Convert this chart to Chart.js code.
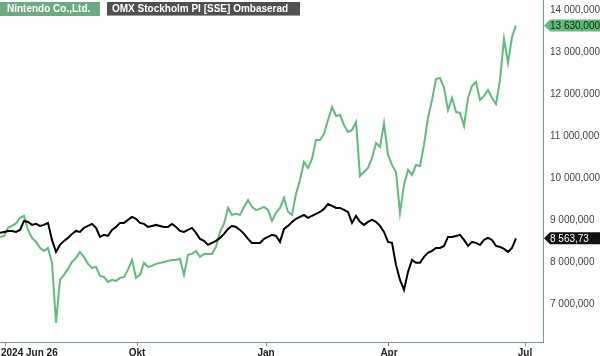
<!DOCTYPE html>
<html>
<head>
<meta charset="utf-8">
<script src="https://cdn.jsdelivr.net/npm/chart.js@4.4.1/dist/chart.umd.min.js"></script>
<style>
  html, body { margin: 0; padding: 0; background: #ffffff; }
  #wrap { position: relative; width: 600px; height: 356px; }
</style>
</head>
<body>
<div id="wrap"><canvas id="c" width="600" height="356"></canvas></div>
<script>
// ---- Data ----
const seriesNames = ['Nintendo Co.,Ltd.', 'OMX Stockholm PI [SSE] Ombaserad'];

// x tick positions (sample index) and their labels
const tickPos  = [1.25, 34.25, 66.5, 97.25, 131.25];
const tickText = ['2024 Jun 26', 'Okt', 'Jan', 'Apr', 'Jul'];

// y ticks
const yTicks = [7000, 8000, 9000, 10000, 11000, 12000, 13000, 14000];

// Nintendo Co.,Ltd. (sampled at regular intervals)
const nintendo = [
  8597, 8621, 8812, 8859, 8919, 9050, 9097, 8764, 8574, 8478,
  8336, 8264, 8336, 7979, 6551, 7574, 7693, 7836, 8002, 8098,
  8240, 8121, 7955, 7860, 7883, 7669, 7645, 7526, 7574, 7550,
  7622, 7645, 7812, 8050, 7622, 7693, 7979, 7883, 7907, 7955,
  7979, 8002, 8026, 8050, 8050, 8074, 7693, 8169, 8193, 8264,
  8121, 8193, 8193, 8193, 8359, 8716, 8907, 9288, 9121, 9145,
  9121, 9311, 9470, 9311, 9240, 9264, 9311, 9240, 8978, 9169,
  9288, 9526, 9192, 9121, 9621, 9954, 10382, 10240, 10454, 10906,
  10906, 11049, 11382, 11691, 11477, 11501, 11263, 11096, 11144, 11334,
  10049, 10144, 10240, 10478, 10835, 10739, 11300, 10549, 10311, 10144,
  9169, 9835, 10192, 10073, 10311, 10287, 10787, 11430, 11858, 12358,
  12382, 12144, 11620, 11906, 11572, 11549, 11239, 11906, 12191, 12286,
  11858, 11953, 12096, 11906, 11763, 12334, 13310, 12739, 13357, 13630
];

// OMX Stockholm PI [SSE] Ombaserad (same sampling)
const omx = [
  8693, 8716, 8740, 8740, 8716, 8764, 8978, 8954, 8883, 8907,
  8859, 8883, 8931, 8526, 8240, 8407, 8502, 8574, 8669, 8740,
  8716, 8812, 8859, 8907, 8812, 8597, 8645, 8621, 8764, 8835,
  8931, 8931, 9002, 9073, 9026, 8931, 8907, 8835, 8859, 8883,
  8859, 8835, 8835, 8907, 8835, 8740, 8716, 8764, 8812, 8693,
  8550, 8502, 8407, 8455, 8502, 8574, 8669, 8788, 8859, 8835,
  8764, 8669, 8550, 8455, 8455, 8455, 8550, 8597, 8645, 8621,
  8478, 8788, 8859, 8954, 9026, 9073, 9121, 9050, 9097, 9145,
  9192, 9264, 9383, 9335, 9288, 9288, 9240, 9192, 8931, 9097,
  8954, 8883, 8954, 9002, 8954, 8859, 8716, 8478, 8455, 7931,
  7574, 7336, 7764, 8050, 7979, 7979, 8121, 8217, 8264, 8336,
  8336, 8383, 8597, 8597, 8621, 8645, 8526, 8383, 8478, 8455,
  8407, 8526, 8574, 8526, 8383, 8359, 8312, 8240, 8336, 8563.73
];
const decimals = [3, 2];

// ---- Styling ----
const GREEN = '#5dbd79';
const GREEN_BOX = '#6aab80';
const DARK_BOX = '#505050';
const AXIS = '#6f9cab';
const FONT = '"Liberation Sans", Arial, sans-serif';

function fmt(v, dec) {
  const s = Number(v).toFixed(dec);
  const parts = s.split('.');
  const intPart = parts[0].replace(/\B(?=(\d{3})+(?!\d))/g, ' ');
  return intPart + (dec > 0 ? ',' + parts[1] : '');
}

const overlay = {
  id: 'overlay',
  afterDraw(chart) {
    const ctx = chart.ctx;
    const xs = chart.scales.x;
    ctx.save();
    // x labels
    ctx.font = 'bold 10px ' + FONT;
    ctx.fillStyle = '#222';
    ctx.textBaseline = 'alphabetic';
    tickPos.forEach((p, i) => {
      const px = xs.getPixelForValue(p);
      if (i === 0) { ctx.textAlign = 'left'; ctx.fillText(tickText[i], 1, 356); }
      else { ctx.textAlign = 'center'; ctx.fillText(tickText[i], px, 356); }
    });
    // last value tags
    const tagCols = [[GREEN, '#10220f'], ['#111111', '#ffffff']];
    chart.data.datasets.forEach((ds, di) => {
      const meta = chart.getDatasetMeta(di);
      const pt = meta.data[meta.data.length - 1];
      const y = pt.y;
      const idx = ds.srcIndex;
      const x0 = chart.chartArea.right + 1;
      ctx.beginPath();
      ctx.moveTo(x0, y);
      ctx.lineTo(x0 + 6, y - 6);
      ctx.lineTo(600, y - 6);
      ctx.lineTo(600, y + 6);
      ctx.lineTo(x0 + 6, y + 6);
      ctx.closePath();
      ctx.fillStyle = tagCols[idx][0];
      ctx.fill();
      ctx.fillStyle = tagCols[idx][1];
      ctx.font = '10px ' + FONT;
      ctx.textAlign = 'left';
      ctx.textBaseline = 'middle';
      const vals = idx === 0 ? nintendo : omx;
      ctx.fillText(fmt(vals[vals.length - 1], decimals[idx]), x0 + 6, y + 0.5);
    });
    // legend boxes
    ctx.textBaseline = 'middle';
    ctx.textAlign = 'left';
    ctx.font = 'bold 10px ' + FONT;
    ctx.fillStyle = GREEN_BOX;
    ctx.fillRect(0, 2, 100, 14);
    ctx.fillStyle = '#ffffff';
    ctx.fillText(seriesNames[0], 7, 9.5);
    ctx.fillStyle = DARK_BOX;
    ctx.fillRect(107, 2, 193, 14);
    ctx.fillStyle = '#9a9a9a';
    ctx.fillRect(107, 15, 193, 1);
    ctx.fillStyle = '#ffffff';
    ctx.fillText(seriesNames[1], 112, 9.5);
    ctx.restore();
  }
};

new Chart(document.getElementById('c'), {
  type: 'line',
  data: {
    datasets: [
      {
        label: seriesNames[1], srcIndex: 1,
        data: omx.map((v, i) => ({ x: i, y: v })),
        borderColor: '#000000', borderWidth: 2, pointRadius: 0, tension: 0
      },
      {
        label: seriesNames[0], srcIndex: 0,
        data: nintendo.map((v, i) => ({ x: i, y: v })),
        borderColor: GREEN, borderWidth: 2, pointRadius: 0, tension: 0
      }
    ]
  },
  options: {
    responsive: false,
    animation: false,
    devicePixelRatio: 1,
    layout: { padding: 0 },
    plugins: { legend: { display: false }, tooltip: { enabled: false } },
    scales: {
      x: {
        type: 'linear', min: 0, max: 135.75,
        afterBuildTicks: s => { s.ticks = tickPos.map(v => ({ value: v })); },
        afterFit: s => { s.height = 14; s.paddingLeft = 0; s.paddingRight = 0; },
        ticks: { display: false },
        grid: {
          display: true, drawOnChartArea: false, drawTicks: true, tickLength: 4,
          color: c => (c.index === 3 ? '#d04a4a' : AXIS)
        },
        border: { display: true, color: AXIS, width: 1 }
      },
      y: {
        type: 'linear', position: 'right', min: 6095, max: 14238,
        afterBuildTicks: s => { s.ticks = yTicks.map(v => ({ value: v })); },
        afterFit: s => { s.width = 57; s.paddingTop = 0; s.paddingBottom = 0; },
        ticks: {
          padding: 7, color: '#444', font: { family: FONT, size: 10 },
          callback: v => fmt(v, 3)
        },
        grid: { display: true, drawOnChartArea: false, drawTicks: false },
        border: { display: true, color: AXIS, width: 1 }
      }
    }
  },
  plugins: [overlay]
});
</script>
</body>
</html>
